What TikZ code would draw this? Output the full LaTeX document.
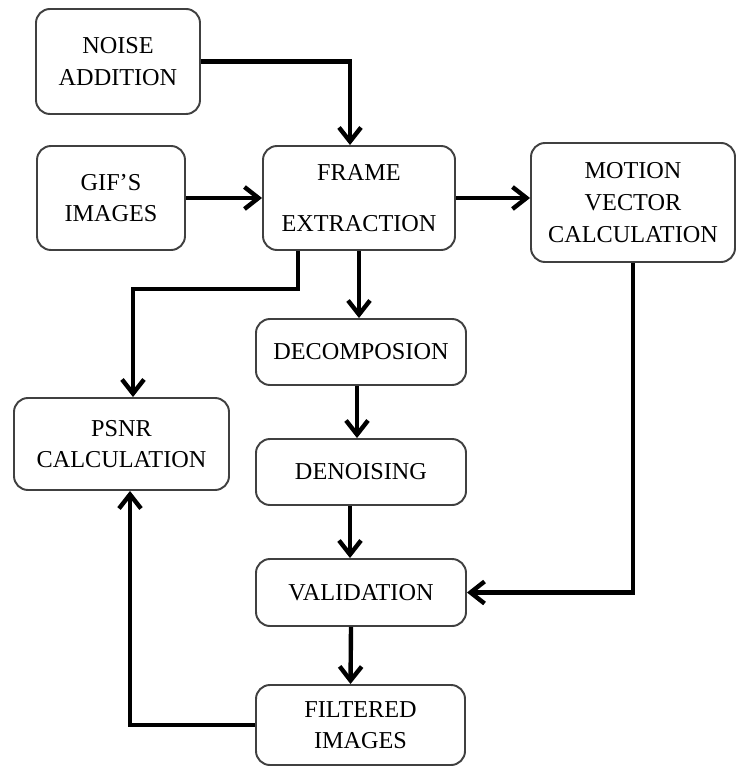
\documentclass[tikz,border=0pt]{standalone}
\usepackage{fontspec}
\setmainfont{Liberation Serif}
\usetikzlibrary{arrows.meta,positioning,calc}

\begin{document}
\begin{tikzpicture}[
    stage/.style={rectangle,draw=black!75,line width=1.1pt,rounded corners=0.28cm,
        align=center,font=\fontsize{13.8}{18}\selectfont,inner sep=2pt},
    flow/.style={-{Straight Barb[length=0.28cm,width=0.44cm]},line width=2.5pt}
]
\useasboundingbox (0,0) rectangle (14.74,-15.34);

% Input stages
\node[stage,minimum width=3.28cm,minimum height=2.10cm] (noise) at (2.36,-1.23) {NOISE\\ADDITION};
\node[stage,minimum width=2.96cm,minimum height=2.08cm] (gif) at (2.22,-3.96) {GIF'S\\IMAGES};
\node[stage,minimum width=3.84cm,minimum height=2.08cm] (frame) at (7.18,-3.96) {FRAME\\[0.4cm]EXTRACTION};
\node[stage,minimum width=4.08cm,minimum height=2.38cm] (motion) at (12.66,-4.05) {MOTION\\VECTOR\\CALCULATION};

% Processing chain
\node[stage,minimum width=4.2cm,minimum height=1.32cm] (decomp) at (7.22,-7.04) {DECOMPOSION};
\node[stage,minimum width=4.2cm,minimum height=1.32cm] (denoise) at (7.22,-9.44) {DENOISING};
\node[stage,minimum width=4.2cm,minimum height=1.34cm] (valid) at (7.22,-11.85) {VALIDATION};
\node[stage,minimum width=4.18cm,minimum height=1.60cm] (filter) at (7.21,-14.50) {FILTERED\\IMAGES};
\node[stage,minimum width=4.3cm,minimum height=1.84cm] (psnr) at (2.43,-8.88) {PSNR\\CALCULATION};

% Connections
\draw[flow] (noise.east) -| ([xshift=-0.18cm]frame.north);
\draw[flow] (gif.east) -- (frame.west);
\draw[flow] (frame.east) -- (frame.east -| motion.west);
\draw[flow] ([xshift=-1.22cm]frame.south) |- ++(0,-0.76) -| ([xshift=0.23cm]psnr.north);
\draw[flow] (frame.south) -- (frame.south |- decomp.north);
\draw[flow] ([xshift=-0.08cm]decomp.south) -- ([xshift=-0.08cm]denoise.north);
\draw[flow] ([xshift=-0.22cm]denoise.south) -- ([xshift=-0.22cm]valid.north);
\draw[flow] ([xshift=-0.2cm]valid.south) -- ([xshift=-0.2cm]filter.north);
\draw[flow] (motion.south) |- (valid.east);
\draw[flow] (filter.west) -| ([xshift=0.17cm]psnr.south);
\end{tikzpicture}
\end{document}
